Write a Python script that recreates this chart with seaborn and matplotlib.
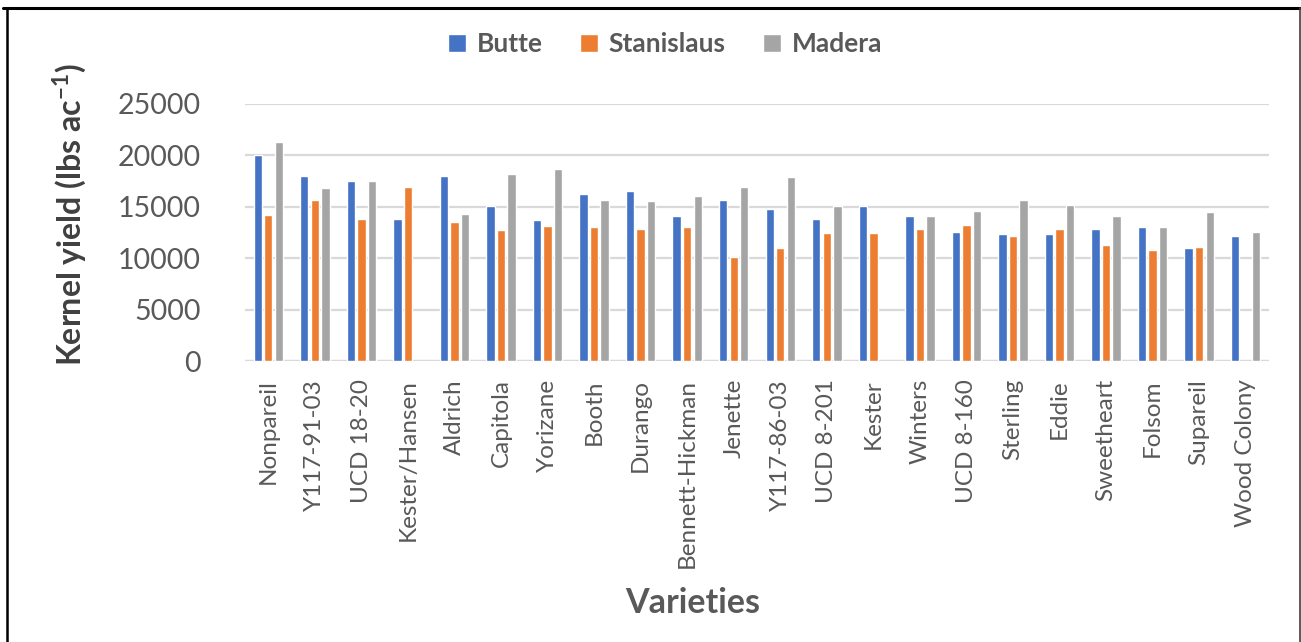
import numpy as np
import pandas as pd
import matplotlib
matplotlib.use("Agg")
import matplotlib.pyplot as plt
from matplotlib.lines import Line2D
import seaborn as sns

# Kernel yield (lbs/ac) by variety at three orchard locations
varieties = ["Nonpareil", "Y117-91-03", "UCD 18-20", "Kester/Hansen", "Aldrich",
             "Capitola", "Yorizane", "Booth", "Durango", "Bennett-Hickman",
             "Jenette", "Y117-86-03", "UCD 8-201", "Kester", "Winters",
             "UCD 8-160", "Sterling", "Eddie", "Sweetheart", "Folsom",
             "Supareil", "Wood Colony"]
butte = [20000, 18000, 17500, 13800, 18000, 15100, 13700, 16200, 16500, 14100,
         15600, 14800, 13800, 15100, 14100, 12500, 12300, 12300, 12800, 13000,
         11000, 12100]
stanislaus = [14200, 15600, 13800, 16900, 13500, 12700, 13100, 13000, 12800, 13000,
              10100, 11000, 12400, 12400, 12800, 13200, 12100, 12800, 11300, 10800,
              11100, np.nan]
madera = [21300, 16800, 17500, np.nan, 14300, 18200, 18700, 15600, 15500, 16000,
          16900, 17900, 15100, np.nan, 14100, 14600, 15600, 15200, 14100, 13000,
          14500, 12500]
locations = ["Butte", "Stanislaus", "Madera"]
colors = ["#4472C4", "#ED7D31", "#A5A5A5"]
yticks = [0, 5000, 10000, 15000, 20000, 25000]

df = pd.DataFrame({"Variety": varieties, "Butte": butte,
                   "Stanislaus": stanislaus, "Madera": madera})
long = df.melt(id_vars="Variety", var_name="Location", value_name="Yield").dropna()

sns.set_theme(style="white")
plt.rcParams["font.family"] = ["Lato", "DejaVu Sans"]
plt.rcParams["mathtext.fontset"] = "custom"
plt.rcParams["mathtext.rm"] = "Lato"
plt.rcParams["mathtext.bf"] = "Lato:bold"

W, H = 1301, 642
fig = plt.figure(figsize=(W / 100, H / 100), dpi=100)
ax = fig.add_axes([245 / W, 1 - 361 / H, (1269 - 245) / W, (361 - 103.7) / H])

sns.barplot(data=long, x="Variety", y="Yield", hue="Location",
            order=varieties, hue_order=locations, palette=colors,
            width=0.68, gap=0.2, errorbar=None, saturation=1, ax=ax)

ax.set_xlim(-0.5, len(varieties) - 0.5)
ax.set_ylim(0, 25000)
ax.set_yticks(yticks)
ax.set_yticklabels([str(v) for v in yticks])
for s in ax.spines.values():
    s.set_visible(False)
ax.yaxis.grid(True, color="#D9D9D9", linewidth=1.6)
ax.set_axisbelow(True)
ax.axhline(0, color="#D9D9D9", linewidth=1.6, zorder=0.5)

ax.tick_params(axis="y", length=0, pad=32, labelsize=20.5, labelcolor="#595959")
ax.tick_params(axis="x", length=0, pad=13, labelsize=17.5, labelcolor="#595959",
               rotation=90)

ax.set_ylabel(r"Kernel yield (lbs ac$^{\mathbf{-1}}$)", fontsize=23,
              fontweight="bold", color="#404040", va="center")
ax.yaxis.set_label_coords((70 - 245) / 1024, (361 - 215) / 257.3)
ax.set_xlabel("Varieties", fontsize=24.5, fontweight="bold", color="#595959",
              va="center")
ax.xaxis.set_label_coords((693 - 245) / 1024, (361 - 603) / 257.3)

sns.move_legend(ax, "center", bbox_to_anchor=(665 / W, 1 - 44 / H),
                bbox_transform=fig.transFigure, ncol=3, frameon=False,
                title=None, fontsize=19, handlelength=0.7, handleheight=0.7,
                handletextpad=0.4, columnspacing=1.4)
for t in ax.get_legend().get_texts():
    t.set_fontweight("bold")
    t.set_color("#595959")

# outer frame around the chart
fig.add_artist(Line2D([3 / W, 1300 / W], [1 - 7.5 / H, 1 - 7.5 / H],
                      transform=fig.transFigure, color="black", linewidth=2.2))
fig.add_artist(Line2D([6.5 / W, 6.5 / W], [0, 1 - 7.5 / H],
                      transform=fig.transFigure, color="black", linewidth=1.8))
fig.add_artist(Line2D([1299.5 / W, 1299.5 / W], [0, 1 - 7.5 / H],
                      transform=fig.transFigure, color="#404040", linewidth=1.2))

fig.savefig("out.png", dpi=100, facecolor="white")
